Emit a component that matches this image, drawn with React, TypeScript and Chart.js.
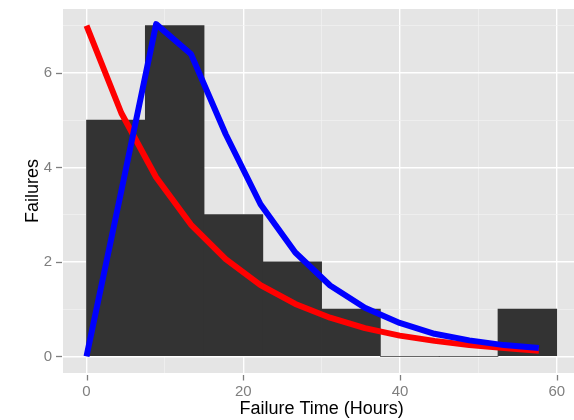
import { useEffect, useRef } from 'react';
import { Chart, registerables } from 'chart.js';

Chart.register(...registerables);

// Histogram bins (width 7.5 h) and observed failure counts
const binCenters = [3.75, 11.25, 18.75, 26.25, 33.75, 41.25, 48.75, 56.25];
const failureCounts = [5, 7, 3, 2, 1, 0, 0, 1];

// Fitted curves evaluated at these failure times
const curveTimes = [0, 4.44, 8.88, 13.32, 17.76, 22.2, 26.64, 31.08, 35.52, 39.96, 44.4, 48.84, 53.28, 57.72];
const exponentialFit = [7.0, 5.15, 3.79, 2.79, 2.06, 1.51, 1.11, 0.82, 0.6, 0.44, 0.33, 0.24, 0.18, 0.12];
const peakedFit = [0, 3.5, 7.03, 6.4, 4.7, 3.22, 2.2, 1.5, 1.03, 0.71, 0.48, 0.34, 0.24, 0.18];

// Axis breaks
const xBreaks = [0, 10, 20, 30, 40, 50, 60];
const xLabeled = [0, 20, 40, 60];
const yBreaks = [0, 1, 2, 3, 4, 5, 6, 7];
const yLabeled = [0, 2, 4, 6];

const xTitle = 'Failure Time (Hours)';
const yTitle = 'Failures';

const FONT = '"Liberation Sans", Arial, Helvetica, sans-serif';

const ggPlugin = {
  id: 'ggDecor',
  beforeDraw(chart: any) {
    const { ctx, chartArea: a } = chart;
    ctx.save();
    ctx.fillStyle = '#e5e5e5';
    ctx.fillRect(a.left, a.top, a.right - a.left, a.bottom - a.top);
    ctx.restore();
  },
  afterDraw(chart: any) {
    const { ctx, chartArea: a, scales } = chart;
    ctx.save();
    ctx.strokeStyle = '#7f7f7f';
    ctx.lineWidth = 1.3;
    xLabeled.forEach((v) => {
      const p = Math.round(scales.x.getPixelForValue(v)) + 0.5;
      ctx.beginPath();
      ctx.moveTo(p, a.bottom + 2);
      ctx.lineTo(p, a.bottom + 7.5);
      ctx.stroke();
    });
    yLabeled.forEach((v) => {
      const p = Math.round(scales.y.getPixelForValue(v)) + 0.5;
      ctx.beginPath();
      ctx.moveTo(a.left - 7, p);
      ctx.lineTo(a.left - 1, p);
      ctx.stroke();
    });
    ctx.fillStyle = '#000000';
    ctx.font = `18px ${FONT}`;
    ctx.textAlign = 'center';
    ctx.textBaseline = 'middle';
    ctx.fillText(xTitle, scales.x.getPixelForValue(30), 409);
    ctx.translate(33, (a.top + a.bottom) / 2);
    ctx.rotate(-Math.PI / 2);
    ctx.fillText(yTitle, 0, 0);
    ctx.restore();
  },
};

export default function App() {
  const canvasRef = useRef<HTMLCanvasElement | null>(null);

  useEffect(() => {
    if (!canvasRef.current) return;
    const chart = new Chart(canvasRef.current, {
      type: 'line',
      data: {
        datasets: [
          {
            type: 'line',
            data: curveTimes.map((x, i) => ({ x, y: peakedFit[i] })),
            borderColor: '#0000ff',
            borderWidth: 6,
            pointRadius: 0,
            tension: 0,
            fill: false,
            borderJoinStyle: 'round',
            order: 1,
          },
          {
            type: 'line',
            data: curveTimes.map((x, i) => ({ x, y: exponentialFit[i] })),
            borderColor: '#ff0000',
            borderWidth: 6,
            pointRadius: 0,
            tension: 0,
            fill: false,
            borderJoinStyle: 'round',
            order: 2,
          },
          {
            type: 'bar',
            data: binCenters.map((x, i) => ({ x, y: failureCounts[i] })),
            backgroundColor: '#333333',
            borderWidth: 0,
            barPercentage: 1,
            categoryPercentage: 1,
            order: 3,
          },
        ] as any,
      },
      options: {
        animation: false,
        responsive: false,
        devicePixelRatio: 1,
        layout: { padding: { top: 9, left: 0, right: 0, bottom: 0 } },
        plugins: { legend: { display: false }, tooltip: { enabled: false } },
        scales: {
          x: {
            type: 'linear',
            min: -3,
            max: 62.2,
            offset: false,
            afterBuildTicks: (s: any) => {
              s.ticks = xBreaks.map((v) => ({ value: v }));
            },
            afterFit: (s: any) => {
              s.height = 47;
              s.paddingLeft = 0;
              s.paddingRight = 0;
            },
            ticks: {
              autoSkip: false,
              maxRotation: 0,
              padding: 10,
              color: '#7f7f7f',
              font: { size: 15, family: FONT },
              callback: (v: any) => (xLabeled.includes(Number(v)) ? String(v) : ''),
            },
            grid: {
              offset: false,
              drawTicks: false,
              color: (c: any) => (c.tick && xLabeled.includes(c.tick.value) ? '#ffffff' : '#f2f2f2'),
              lineWidth: (c: any) => (c.tick && xLabeled.includes(c.tick.value) ? 1.4 : 0.7),
            },
            border: { display: false },
          },
          y: {
            type: 'linear',
            min: -0.35,
            max: 7.35,
            afterBuildTicks: (s: any) => {
              s.ticks = yBreaks.map((v) => ({ value: v }));
            },
            afterFit: (s: any) => {
              s.width = 63;
              s.paddingTop = 0;
              s.paddingBottom = 0;
            },
            ticks: {
              autoSkip: false,
              padding: 11,
              color: '#7f7f7f',
              font: { size: 15, family: FONT },
              callback: (v: any) => (yLabeled.includes(Number(v)) ? String(v) : ''),
            },
            grid: {
              drawTicks: false,
              color: (c: any) => (c.tick && yLabeled.includes(c.tick.value) ? '#ffffff' : '#f2f2f2'),
              lineWidth: (c: any) => (c.tick && yLabeled.includes(c.tick.value) ? 1.4 : 0.7),
            },
            border: { display: false },
          },
        },
      } as any,
      plugins: [ggPlugin],
    });
    return () => chart.destroy();
  }, []);

  return (
    <div style={{ position: 'absolute', left: 0, top: 0, width: 574, height: 420, background: '#ffffff' }}>
      <canvas ref={canvasRef} width={574} height={420} style={{ display: 'block' }} />
    </div>
  );
}
